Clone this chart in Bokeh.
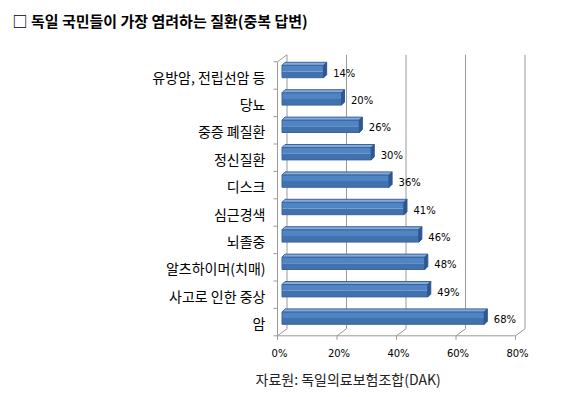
from bokeh.plotting import figure
from bokeh.models import Range1d
from bokeh.core.properties import value
from bokeh.embed import file_html
from bokeh.resources import INLINE

title_text = "□ 독일 국민들이 가장 염려하는 질환(중복 답변)"
source_text = "자료원: 독일의료보험조합(DAK)"
categories = ["유방암, 전립선암 등", "당뇨", "중증 폐질환", "정신질환", "디스크",
              "심근경색", "뇌졸중", "알츠하이머(치매)", "사고로 인한 중상", "암"]
values = [14, 20, 26, 30, 36, 41, 46, 48, 49, 68]
x_ticks = [0, 20, 40, 60, 80]
x_tick_labels = ["0%", "20%", "40%", "60%", "80%"]

# ---- layout constants (pixels) ----
W, H = 565, 392
X0PX, KX = 277.0, 2.975      # page x of 0% (front plane), px per %
Y0PX, KY = 321.6, 27.4       # page y of the last category centre (front), px per category

def px_x(px):  # pixel offset -> data units along x
    return px / KX

def px_y(px):
    return px / KY

n = len(categories)
DX, DY = px_x(9.5), px_y(7)          # back wall offset
BX, BY = px_x(4.5), px_y(4)          # bar front face offset
SX, SY = px_x(3), px_y(3)            # bar depth
HH = px_y(6.2)                       # half bar height

p = figure(width=W, height=H, output_backend="svg", toolbar_location=None,
           x_axis_location=None, y_axis_location=None,
           x_range=Range1d(-X0PX / KX, (W - X0PX) / KX),
           y_range=Range1d((Y0PX - H) / KY, Y0PX / KY),
           min_border=0)
p.outline_line_color = None
p.xgrid.visible = False
p.ygrid.visible = False
p.background_fill_color = "white"
p.border_fill_color = "white"

GRID = "#9a9a9a"
ylo, yhi = -0.5, n - 0.5
xmax = x_ticks[-1]
# back wall gridlines + floor diagonals
p.segment(x0=[t + DX for t in x_ticks], y0=[ylo + DY] * len(x_ticks),
          x1=[t + DX for t in x_ticks], y1=[yhi + DY] * len(x_ticks),
          line_color=GRID, line_width=1)
p.segment(x0=x_ticks, y0=[ylo] * len(x_ticks),
          x1=[t + DX for t in x_ticks], y1=[ylo + DY] * len(x_ticks),
          line_color=GRID, line_width=1)
# left wall top edge
p.segment(x0=[0], y0=[yhi], x1=[DX], y1=[yhi + DY], line_color=GRID, line_width=1)
# front axes
p.segment(x0=[0, 0], y0=[ylo, ylo], x1=[0, xmax], y1=[yhi, ylo], line_color=GRID, line_width=1)
# left ticks at category boundaries
bounds = [k - 0.5 for k in range(n + 1)]
p.segment(x0=[0] * len(bounds), y0=bounds, x1=[-px_x(4)] * len(bounds), y1=bounds,
          line_color=GRID, line_width=1)
# bottom ticks
p.segment(x0=x_ticks, y0=[ylo] * len(x_ticks), x1=x_ticks, y1=[ylo - px_y(4)] * len(x_ticks),
          line_color=GRID, line_width=1)

# bars
ys = [n - 1 - i for i in range(n)]
fx0, fx1, fy0, fy1 = [], [], [], []
top_xs, top_ys, side_xs, side_ys = [], [], [], []
lx, ly, lt = [], [], []
for v, y in zip(values, ys):
    c = y + BY
    x0 = BX
    x1 = v + BX
    fx0.append(x0); fx1.append(x1); fy0.append(c - HH); fy1.append(c + HH)
    top_xs.append([x0, x1, x1 + SX, x0 + SX])
    top_ys.append([c + HH, c + HH, c + HH + SY, c + HH + SY])
    side_xs.append([x1, x1 + SX, x1 + SX, x1])
    side_ys.append([c - HH, c - HH + SY, c + HH + SY, c + HH])
    lx.append(x1 + px_x(9.5)); ly.append(c - px_y(1.5)); lt.append(f"{v}%")

mid = [b + (t - b) * 0.5 for b, t in zip(fy0, fy1)]
p.quad(left=fx0, right=fx1, bottom=fy0, top=mid, fill_color="#4272AE", line_color=None)
p.quad(left=fx0, right=fx1, bottom=mid, top=fy1, fill_color="#5085C4", line_color=None)
p.quad(left=fx0, right=fx1, bottom=fy0, top=fy1, fill_color=None,
       line_color="#3B65A0", line_width=1)
p.patches(top_xs, top_ys, fill_color="#86A9D9", line_color="#3B65A0", line_width=1)
p.patches(side_xs, side_ys, fill_color="#2C5790", line_color="#2C5790", line_width=1)

p.text(x=lx, y=ly, text=lt, text_font_size="10px", text_font=value("DejaVu Sans"),
       text_baseline="middle", text_align="left", text_color="#000000")

# x tick labels
p.text(x=[t + px_x(2) for t in x_ticks], y=[ylo - px_y(17.5)] * len(x_ticks),
       text=x_tick_labels, text_font_size="10px", text_font=value("DejaVu Sans"),
       text_baseline="middle", text_align="center", text_color="#000000")

# category labels
p.text(x=[-px_x(12)] * n, y=[y - px_y(1) for y in ys], text=categories,
       text_font_size="14px", text_font=value("Noto Sans CJK KR"),
       text_baseline="middle", text_align="right", text_color="#000000")

# title and source
p.text(x=[-px_x(265)], y=[(Y0PX - 20) / KY], text=[title_text],
       text_font_size="15px", text_font=value("Noto Sans CJK KR"), text_font_style="bold",
       text_baseline="middle", text_align="left", text_color="#000000")
p.text(x=[-px_x(22)], y=[(Y0PX - 378) / KY], text=[source_text],
       text_font_size="14px", text_font=value("Noto Sans CJK KR"),
       text_baseline="middle", text_align="left", text_color="#222222")

open("out.html", "w").write(file_html(p, INLINE))
